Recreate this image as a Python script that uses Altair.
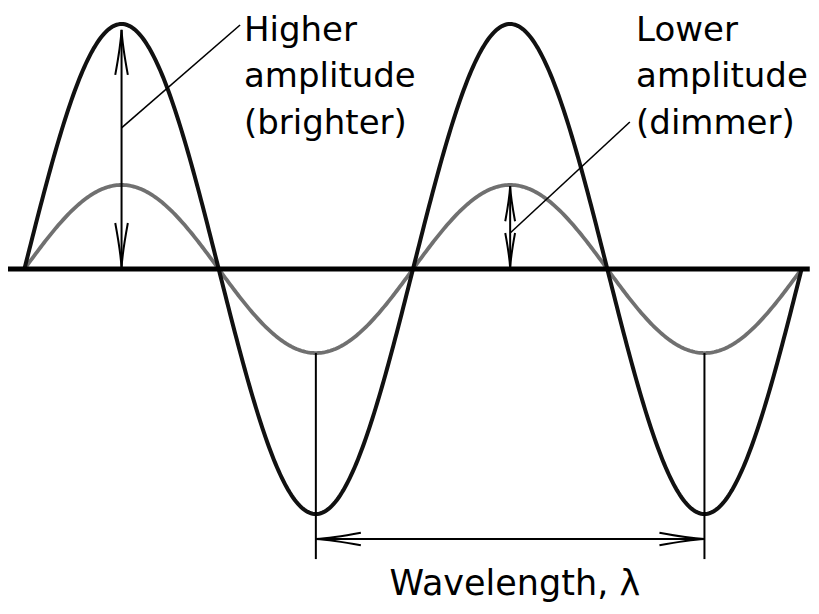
import numpy as np
import pandas as pd
import altair as alt

# ---- wave parameters (data units: x in wavelengths, y in amplitude units) ----
amp_high = 1.0      # black wave (brighter)
amp_low = 0.343     # gray wave (dimmer)
n_waves = 2

# ---- annotation data ----
labels_high = ["Higher", "amplitude", "(brighter)"]
labels_low = ["Lower", "amplitude", "(dimmer)"]
label_high_x = 0.565
label_low_x = 1.574
label_high_y = [0.931, 0.743, 0.551]
label_low_y = [0.931, 0.743, 0.551]

leader_x = [0.555, 1.558]
leader_y = [0.996, 0.600]
leader_x2 = [0.25, 1.25]
leader_y2 = [0.576, 0.147]

axis_x = [-0.0422]
axis_x2 = [2.021]

wl_text = ["Wavelength, λ"]
wl_text_x = [1.262]
wl_text_y = [-1.33]
wl_arrow_y = -1.102
wl_drop_bottom = -1.184

# ---- layout mapping (pixels per data unit) ----
PX_X = 388.6
PX_Y = 245.0
PAD_T, PAD_B, PAD_R = 6, 8, 3
W, H = 800, 584
x0 = (8 - 24.4) / PX_X
x1 = x0 + W / PX_X
y1 = (269 - 8 - PAD_T) / PX_Y
y0 = y1 - H / PX_Y

xs = np.linspace(0, n_waves, 481)
waves_low = pd.DataFrame({"x": xs, "y": amp_low * np.sin(2 * np.pi * xs)})
waves_high = pd.DataFrame({"x": xs, "y": amp_high * np.sin(2 * np.pi * xs)})

X = lambda f="x": alt.X(f"{f}:Q", scale=alt.Scale(domain=[x0, x1], nice=False, zero=False), axis=None)
Y = lambda f="y": alt.Y(f"{f}:Q", scale=alt.Scale(domain=[y0, y1], nice=False, zero=False), axis=None)

gray = alt.Chart(waves_low).mark_line(
    color="#707070", strokeWidth=3.8).encode(x=X(), y=Y())
black = alt.Chart(waves_high).mark_line(
    color="#111111", strokeWidth=4).encode(x=X(), y=Y())

axis_df = pd.DataFrame({"x": axis_x, "x2": axis_x2, "y": [0.0], "y2": [0.0]})
axis_line = alt.Chart(axis_df).mark_rule(color="black", strokeWidth=5, strokeCap="butt").encode(
    x=X(), x2="x2:Q", y=Y(), y2="y2:Q")

leaders = pd.DataFrame({"x": leader_x, "y": leader_y, "x2": leader_x2, "y2": leader_y2})
leader_rules = alt.Chart(leaders).mark_rule(color="black", strokeWidth=1.6).encode(
    x=X(), x2="x2:Q", y=Y(), y2="y2:Q")

shafts = pd.DataFrame({
    "x": [0.25, 1.25, 0.75, 1.75, 0.75],
    "y": [0.976, amp_low * 0.985, -amp_low, -amp_low, wl_arrow_y],
    "x2": [0.25, 1.25, 0.75, 1.75, 1.75],
    "y2": [0.0, 0.0, wl_drop_bottom, wl_drop_bottom, wl_arrow_y],
})
shaft_rules = alt.Chart(shafts).mark_rule(color="black", strokeWidth=2).encode(
    x=X(), x2="x2:Q", y=Y(), y2="y2:Q")

heads = pd.DataFrame({
    "x": [0.25, 0.25, 1.25, 1.25, 0.75, 1.75],
    "y": [0.976, 0.004, amp_low * 0.985, 0.004, wl_arrow_y, wl_arrow_y],
    "angle": [0, 180, 0, 180, 270, 90],
    "size": [2025, 2025, 1225, 1225, 2025, 2025],
})
arrow_path = "M -0.28 2 Q -0.04 0.7 0 0 Q 0.04 0.7 0.28 2"
arrowheads = alt.Chart(heads).mark_point(
    shape=arrow_path, filled=False, stroke="black", strokeWidth=2, opacity=1).encode(
    x=X(), y=Y(),
    angle=alt.Angle("angle:Q", scale=None),
    size=alt.Size("size:Q", scale=None, legend=None))

labels = pd.DataFrame({
    "t": labels_high + labels_low,
    "x": [label_high_x] * 3 + [label_low_x] * 3,
    "y": label_high_y + label_low_y,
})
FONT = "DejaVu Sans"
FS = 34
label_text = alt.Chart(labels).mark_text(
    font=FONT, fontSize=FS, align="left", baseline="alphabetic", color="black").encode(
    x=X(), y=Y(), text="t:N")

wl = pd.DataFrame({"t": wl_text, "x": wl_text_x, "y": wl_text_y})
wl_label = alt.Chart(wl).mark_text(
    font=FONT, fontSize=35, align="center", baseline="alphabetic", color="black").encode(
    x=X(), y=Y(), text="t:N")

chart = alt.layer(
    gray, black, axis_line, leader_rules, shaft_rules, arrowheads, label_text, wl_label
).properties(
    width=W, height=H, autosize=alt.AutoSizeParams(type="none"),
    padding={"left": 0, "right": PAD_R, "top": PAD_T, "bottom": PAD_B},
    background="white"
).configure_view(stroke=None)

chart.save("out.html", embed_options={"renderer": "svg", "actions": False})
